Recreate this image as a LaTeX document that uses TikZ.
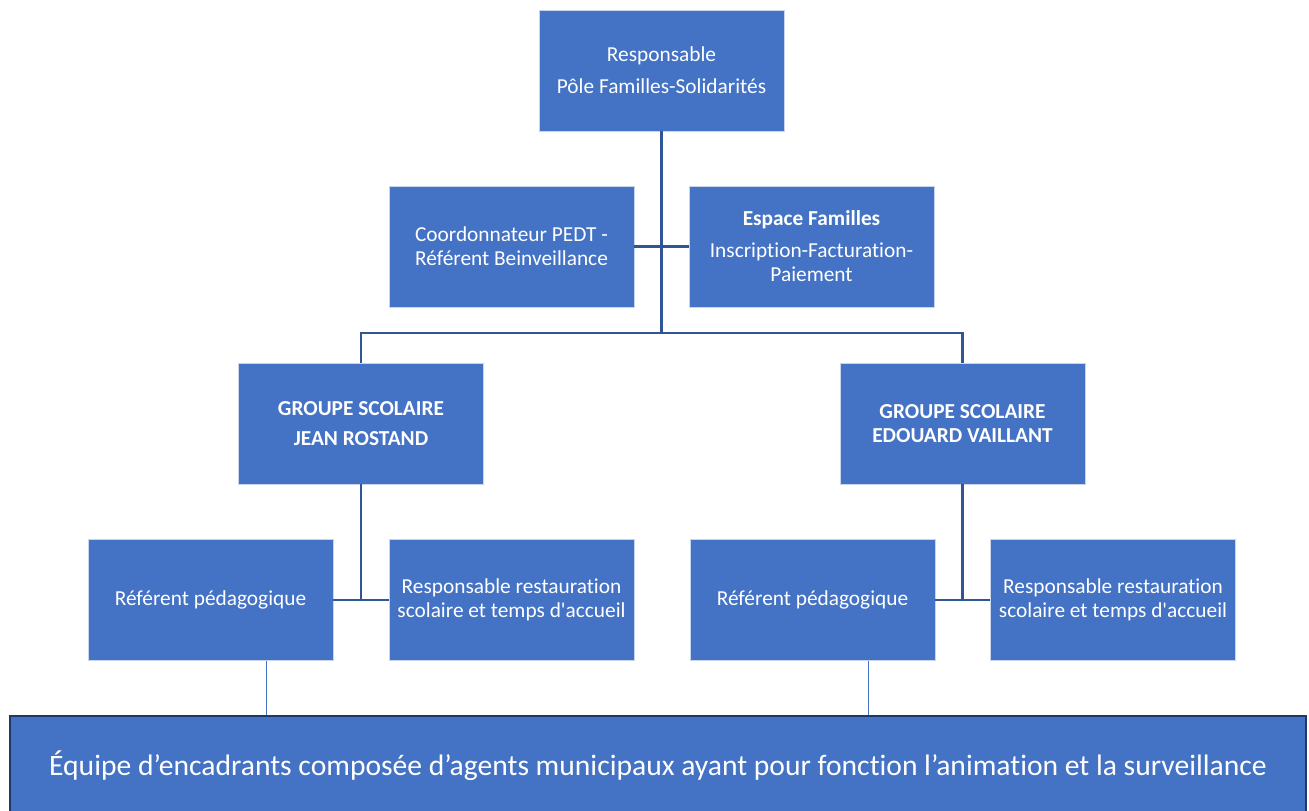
\documentclass[tikz,border=0pt]{standalone}
\usepackage{fontspec}
\setmainfont{Carlito}[Ligatures=NoCommon]
\definecolor{BoxBlue}{HTML}{4472C4}
\definecolor{LinkBlue}{HTML}{2F5597}
\definecolor{NavyEdge}{HTML}{1F3864}

\tikzset{
  unit/.style={fill=BoxBlue, draw=white!70!BoxBlue, line width=0.5pt, text=white, align=center,
    inner sep=0pt, minimum width=183.75pt, minimum height=90.75pt,
    font=\fontsize{16}{18}\selectfont},
  link/.style={draw=LinkBlue, line width=2.2pt},
  thinlink/.style={draw=BoxBlue, line width=0.8pt},
}

\begin{document}
\begin{tikzpicture}[x=0.75pt, y=-0.75pt]

 % Cadre
 \useasboundingbox (0,0) rectangle (1309,810);

 %%%%%%%%%% Boites %%%%%%%%%%
 \node[unit] (resp) at (661.5,70.5) {Responsable\\[6pt]P\^ole Familles-Solidarit\'es};
 \node[unit] (coord) at (511.5,246.5) {Coordonnateur PEDT -\\R\'ef\'erent Beinveillance};
 \node[unit] (espace) at (811.5,246.5) {\textbf{Espace Familles}\\[6pt]Inscription-Facturation-\\Paiement};

 \node[unit] (jr) at (361,423.5) {\textbf{GROUPE SCOLAIRE}\\[5pt]\textbf{JEAN ROSTAND}};
 \node[unit] (ev) at (962.5,423.5) {\textbf{GROUPE SCOLAIRE}\\\textbf{EDOUARD VAILLANT}};

 \node[unit] (refL) at (210.5,600) {R\'ef\'erent p\'edagogique};
 \node[unit] (restL) at (511.5,600) {Responsable restauration\\scolaire et temps d\textquotesingle accueil};
 \node[unit] (refR) at (812.5,600) {R\'ef\'erent p\'edagogique};
 \node[unit] (restR) at (1113,600) {Responsable restauration\\scolaire et temps d\textquotesingle accueil};

 \node[fill=BoxBlue, draw=NavyEdge, line width=1.5pt, text=white, inner sep=0pt,
   minimum width=972pt, minimum height=75pt, font=\fontsize{22.2}{26}\selectfont]
   (team) at (658,766) {\'Equipe d’encadrants compos\'ee d’agents municipaux ayant pour fonction l’animation et la surveillance};

 %%%%%%%%%% Liens %%%%%%%%%%
 \coordinate (bus) at (661.5,333);
 \draw[link] (resp.south) -- (bus);
 \draw[link] (coord.east) -- (espace.west);
 \draw[link] (jr.north) |- (bus) -| (ev.north);

 % Groupes scolaires
 \draw[link] (jr.south) -- (jr.south |- refL.east);
 \draw[link] (refL.east) -- (restL.west);
 \draw[link] (ev.south) -- (ev.south |- refR.east);
 \draw[link] (refR.east) -- (restR.west);

 % Equipe
 \draw[thinlink] ([xshift=42pt]refL.south) -- ([xshift=42pt]refL.south |- team.north);
 \draw[thinlink] ([xshift=42pt]refR.south) -- ([xshift=42pt]refR.south |- team.north);

\end{tikzpicture}
\end{document}
